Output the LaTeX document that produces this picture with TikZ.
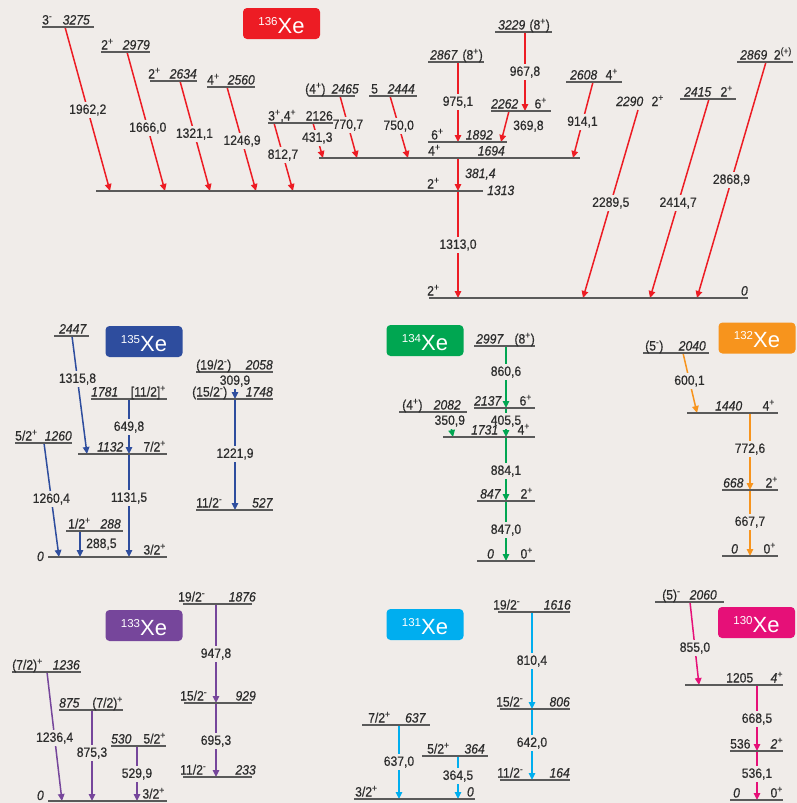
\documentclass[tikz,border=0pt]{standalone}
\usepackage{fontspec}
\setmainfont{Liberation Sans}[FakeStretch=0.9,FakeBold=0.5]
\newfontfamily\badgefont{Liberation Sans}
\usetikzlibrary{arrows.meta,calc}
\definecolor{bg}{RGB}{240,236,233}
\definecolor{txt}{RGB}{45,45,45}
\definecolor{levc}{RGB}{90,90,90}
\definecolor{xred}{RGB}{237,28,36}
\definecolor{xblue}{RGB}{46,77,158}
\definecolor{xgreen}{RGB}{0,166,81}
\definecolor{xorange}{RGB}{247,148,29}
\definecolor{xpurple}{RGB}{118,70,155}
\definecolor{xcyan}{RGB}{0,174,239}
\definecolor{xmag}{RGB}{230,16,120}
\newcommand\xP{\textsuperscript{+}}
\newcommand\xM{\textsuperscript{-}}
\tikzset{
 lev/.style={draw=levc,line width=1.3pt},
 arr/.style={line width=1.5pt,-{Triangle[length=7pt,width=6.5pt]}},
 glab/.style={fill=bg,text=txt,inner sep=2pt,font=\fontsize{13.5}{14}\selectfont},
 tl/.style={anchor=base west,inner sep=0pt,text=txt,font=\fontsize{13.5}{14}\selectfont},
 tr/.style={anchor=base east,inner sep=0pt,text=txt,font=\fontsize{13.5}{14}\selectfont},
 badge/.style={rounded corners=4pt,inner sep=0pt,minimum width=77pt,minimum height=31pt},
 btext/.style={anchor=base,text=white,inner sep=0pt}
}
\newcommand\Lvl[8]{%
 \coordinate (#1a) at (#2,#4); \coordinate (#1b) at (#3,#4);
 \draw[lev] (#1a) -- (#1b);
 \node[tl] (#1l) at (#5,#4-2.5) {#6};
 \node[tr] (#1r) at (#7,#4-2.5) {#8};}
\newcommand\Tr[7]{%
 \coordinate (#1s) at (#2,#3); \coordinate (#1e) at (#4,#5);
 \pgfmathsetmacro\tpos{(#7-#3)/(#5-#3)}
 \draw[arr] (#1s) -- node[glab,pos=\tpos] (#1l) {#6} (#1e);}
\newcommand\Bdg[5]{%
 \node[badge,fill=#4] (#1) at (#2,#3) {};
 \node[btext] (#1t) at (#2,#3+9.5) {\badgefont\raisebox{8pt}{\fontsize{11.5}{12}\selectfont #5}\fontsize{22}{22}\selectfont Xe};}
\begin{document}
\begin{tikzpicture}[x=1pt,y=-1pt]
\fill[bg] (0,0) rectangle (797,803);
\useasboundingbox (0,0) rectangle (797,803);
% badges
\Bdg{k136}{281.5}{23.5}{xred}{136}
\Bdg{k135}{144}{341.5}{xblue}{135}
\Bdg{k134}{425}{340.5}{xgreen}{134}
\Bdg{k132}{757}{338}{xorange}{132}
\Bdg{k133}{144}{625.5}{xpurple}{133}
\Bdg{k131}{425}{624.5}{xcyan}{131}
\Bdg{k130}{756.5}{622.5}{xmag}{130}
% 136Xe transitions
\begin{scope}[color=xred]
\Tr{t1}{65}{27}{110}{191}{1962,2}{110}
\Tr{t2}{127}{52}{165}{191}{1666,0}{128}
\Tr{t3}{180}{81}{210}{191}{1321,1}{134}
\Tr{t4}{227}{87}{256}{191}{1246,9}{141}
\Tr{t5}{274}{123}{293}{191}{812,7}{155}
\Tr{t6}{313}{123}{323}{158}{431,3}{138}
\Tr{t7}{340}{96}{357}{158}{770,7}{125}
\Tr{t8}{390}{96}{408}{158}{750,0}{126}
\Tr{t9}{458}{62}{458}{142}{975,1}{102}
\Tr{t10}{525}{32}{525}{111}{967,8}{72}
\coordinate (t11s) at (509,111); \coordinate (t11e) at (501,142);
\draw[arr] (t11s) -- (t11e);
\node[tl] (t11l) at (513,130) {369,8};
\Tr{t12}{593}{82}{573}{158}{914,1}{122}
\coordinate (t13s) at (458,158); \coordinate (t13e) at (458,191);
\draw[arr] (t13s) -- (t13e);
\node[tl] (t13l) at (465,178) {\textit{381,4}};
\Tr{t14}{458}{191}{458}{298}{1313,0}{245}
\Tr{t15}{638}{110}{583}{298}{2289,5}{203}
\Tr{t16}{709}{99}{650}{298}{2414,7}{203}
\Tr{t17}{766}{62}{697}{298}{2868,9}{180}
\end{scope}
% 135Xe transitions
\begin{scope}[color=xblue]
\Tr{u1}{72}{336}{87}{454}{1315,8}{379}
\Tr{u2}{129}{399}{129}{454}{649,8}{427}
\Tr{u3}{129}{454}{129}{557}{1131,5}{498}
\Tr{u4}{44}{443}{59}{557}{1260,4}{499}
\coordinate (u5s) at (80,531); \coordinate (u5e) at (80,557);
\draw[arr] (u5s) -- (u5e);
\node[tl] (u5l) at (86,548) {288,5};
\Tr{u6}{235}{372}{235}{399}{309,9}{381}
\Tr{u7}{235}{399}{235}{510}{1221,9}{454}
\end{scope}
% 134Xe transitions
\begin{scope}[color=xgreen]
\Tr{v1}{506}{346}{506}{408}{860,6}{372}
\Tr{v2}{448}{412}{453}{437}{350,9}{421}
\Tr{v3}{506}{408}{506}{437}{405,5}{421}
\Tr{v4}{506}{437}{506}{501}{884,1}{471}
\Tr{v5}{506}{501}{506}{561}{847,0}{530}
\end{scope}
% 132Xe transitions
\begin{scope}[color=xorange]
\Tr{w1}{683}{353}{697}{413}{600,1}{381}
\Tr{w2}{750}{413}{750}{490}{772,6}{449}
\Tr{w3}{750}{490}{750}{556}{667,7}{522}
\end{scope}
% 133Xe transitions
\begin{scope}[color=xpurple]
\Tr{p1}{216}{604}{216}{703}{947,8}{654}
\Tr{p2}{216}{703}{216}{777}{695,3}{741}
\Tr{p3}{47}{672}{62}{801}{1236,4}{738}
\Tr{p4}{92}{710}{92}{801}{875,3}{753}
\Tr{p5}{137}{746}{137}{801}{529,9}{774}
\end{scope}
% 131Xe transitions
\begin{scope}[color=xcyan]
\Tr{q1}{532}{612}{532}{709}{810,4}{661}
\Tr{q2}{532}{709}{532}{780}{642,0}{743}
\Tr{q3}{399}{725}{399}{799}{637,0}{762}
\Tr{q4}{458}{756}{458}{799}{364,5}{776}
\end{scope}
% 130Xe transitions
\begin{scope}[color=xmag]
\Tr{r1}{690}{602}{699}{685}{855,0}{648}
\Tr{r2}{757}{685}{757}{751}{668,5}{719}
\Tr{r3}{757}{751}{757}{800}{536,1}{774}
\end{scope}
% 136Xe levels
\Lvl{a3275}{42}{94}{27}{42}{3\xM}{90}{\textit{3275}}
\Lvl{a2979}{101}{150}{52}{101}{2\xP}{150}{\textit{2979}}
\Lvl{a2634}{150}{197}{81}{148}{2\xP}{197}{\textit{2634}}
\Lvl{a2560}{207}{255}{87}{207}{4\xP}{255}{\textit{2560}}
\Lvl{a2126}{268}{333}{123}{268}{3\xP,4\xP}{333}{2126}
\Lvl{a2465}{309}{355}{96}{305}{(4\xP)}{359}{\textit{2465}}
\Lvl{a2444}{369}{417}{96}{371}{5}{415}{\textit{2444}}
\Lvl{a2867}{428}{484}{62}{430}{\textit{2867}}{483}{(8\xP)}
\Lvl{a3229}{495}{552}{32}{498}{\textit{3229}}{550}{(8\xP)}
\Lvl{a2262}{491}{551}{111}{491}{\textit{2262}}{547}{6\xP}
\Lvl{a2608}{566}{622}{82}{570}{\textit{2608}}{618}{4\xP}
\Lvl{a2415}{680}{736}{99}{684}{\textit{2415}}{733}{2\xP}
\Lvl{a2869}{737}{793}{62}{740}{\textit{2869}}{792}{2\textsuperscript{(+)}}
\Lvl{a1892}{428}{507}{142}{431}{6\xP}{493}{\textit{1892}}
\Lvl{a1694}{319}{580}{158}{428}{4\xP}{505}{\textit{1694}}
\Lvl{a1313}{96}{483}{191}{427}{2\xP}{483}{}
\node[tl] (a1313e) at (487,195) {\textit{1313}};
\Lvl{a0}{429}{748}{298}{427}{2\xP}{748}{\textit{0}}
\node[tl] (a2290e) at (616,106) {\textit{2290}};
\node[tr] (a2290j) at (664,106) {2\xP};
% 135Xe levels
\Lvl{b2447}{54}{89}{336}{59}{\textit{2447}}{89}{}
\Lvl{b1781}{91}{167}{399}{91}{\textit{1781}}{166}{[11/2]\xP}
\Lvl{b1132}{78}{167}{454}{97}{\textit{1132}}{166}{7/2\xP}
\Lvl{b1260}{15}{72}{443}{15}{5/2\xP}{72}{\textit{1260}}
\Lvl{b288}{66}{123}{531}{68}{1/2\xP}{121}{\textit{288}}
\Lvl{b0}{48}{167}{557}{48}{}{166}{3/2\xP}
\node[tr] (b0z) at (44,561) {\textit{0}};
\Lvl{b2058}{196}{273}{372}{196}{(19/2\xM)}{273}{\textit{2058}}
\Lvl{b1748}{197}{273}{399}{192}{(15/2\xM)}{273}{\textit{1748}}
\Lvl{b527}{196}{273}{510}{196}{11/2\xM}{273}{\textit{527}}
% 134Xe levels
\Lvl{c2997}{474}{535}{346}{476}{\textit{2997}}{535}{(8\xP)}
\Lvl{c2137}{474}{535}{408}{474}{\textit{2137}}{532}{6\xP}
\Lvl{c2082}{399}{467}{412}{402}{(4\xP)}{461}{\textit{2082}}
\Lvl{c1731}{443}{535}{437}{471}{\textit{1731}}{530}{4\xP}
\Lvl{c847}{477}{535}{501}{480}{\textit{847}}{533}{2\xP}
\Lvl{c0}{477}{535}{561}{487}{\textit{0}}{533}{0\xP}
% 132Xe levels
\Lvl{d2040}{643}{709}{353}{645}{(5\xM)}{706}{\textit{2040}}
\Lvl{d1440}{687}{778}{413}{715}{\textit{1440}}{775}{4\xP}
\Lvl{d668}{722}{778}{490}{723}{\textit{668}}{778}{2\xP}
\Lvl{d0}{722}{778}{556}{731}{\textit{0}}{776}{0\xP}
% 133Xe levels
\Lvl{e1876}{183}{252}{604}{178}{19/2\xM}{256}{\textit{1876}}
\Lvl{e929}{184}{252}{703}{180}{15/2\xM}{256}{\textit{929}}
\Lvl{e233}{183}{252}{777}{180}{11/2\xM}{256}{\textit{233}}
\Lvl{e1236}{12}{81}{672}{12}{(7/2)\xP}{80}{\textit{1236}}
\Lvl{e875}{59}{123}{710}{59}{\textit{875}}{123}{(7/2)\xP}
\Lvl{e530}{111}{166}{746}{111}{\textit{530}}{166}{5/2\xP}
\Lvl{e0}{48}{167}{801}{48}{}{165}{3/2\xP}
\node[tr] (e0z) at (44,800) {\textit{0}};
% 131Xe levels
\Lvl{f1616}{498}{570}{612}{493}{19/2\xM}{571}{\textit{1616}}
\Lvl{f806}{500}{570}{709}{496}{15/2\xM}{570}{\textit{806}}
\Lvl{f164}{500}{570}{780}{497}{11/2\xM}{570}{\textit{164}}
\Lvl{f637}{362}{430}{725}{368}{7/2\xP}{426}{\textit{637}}
\Lvl{f364}{422}{488}{756}{427}{5/2\xP}{485}{\textit{364}}
\Lvl{f0}{354}{475}{799}{355}{3/2\xP}{474}{\textit{0}}
% 130Xe levels
\Lvl{g2060}{655}{724}{602}{662}{(5)\xM}{717}{\textit{2060}}
\Lvl{g1205}{685}{783}{685}{726}{1205}{783}{\textit{4\xP}}
\Lvl{g536}{730}{783}{751}{730}{536}{783}{\textit{2\xP}}
\Lvl{g0}{730}{783}{800}{733}{\textit{0}}{783}{0\xP}
\end{tikzpicture}
\end{document}
